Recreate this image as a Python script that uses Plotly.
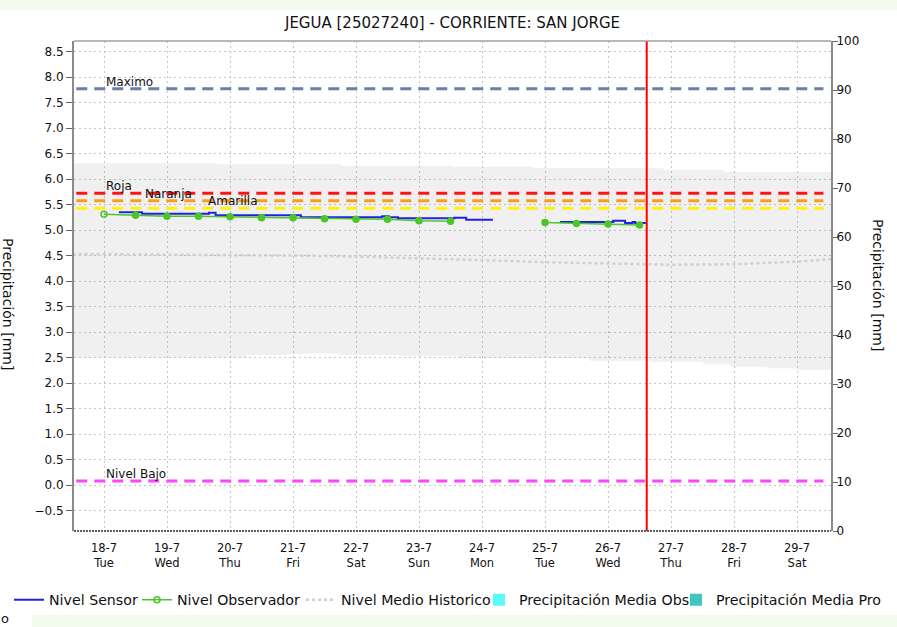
import plotly.graph_objects as go

# ---------------- data ----------------
title_text = "JEGUA [25027240] - CORRIENTE: SAN JORGE"
axis_title = "Precipitación [mm]"

day_ticks = ["2023-07-18", "2023-07-19", "2023-07-20", "2023-07-21", "2023-07-22", "2023-07-23",
             "2023-07-24", "2023-07-25", "2023-07-26", "2023-07-27", "2023-07-28", "2023-07-29"]
day_labels = ["18-7<br>Tue", "19-7<br>Wed", "20-7<br>Thu", "21-7<br>Fri", "22-7<br>Sat", "23-7<br>Sun",
              "24-7<br>Mon", "25-7<br>Tue", "26-7<br>Wed", "27-7<br>Thu", "28-7<br>Fri", "29-7<br>Sat"]

x_range = ["2023-07-17 12:34", "2023-07-29 12:57"]

obs_time = ["2023-07-18 00:00", "2023-07-18 12:00", "2023-07-19 00:00", "2023-07-19 12:00",
            "2023-07-20 00:00", "2023-07-20 12:00", "2023-07-21 00:00", "2023-07-21 12:00",
            "2023-07-22 00:00", "2023-07-22 12:00", "2023-07-23 00:00", "2023-07-23 12:00",
            "2023-07-24 12:00",
            "2023-07-25 00:00", "2023-07-25 12:00", "2023-07-26 00:00", "2023-07-26 12:00"]
obs_level = [5.31, 5.29, 5.27, 5.27, 5.26, 5.24, 5.24, 5.22, 5.21, 5.21, 5.18, 5.17,
             None,
             5.15, 5.13, 5.12, 5.10]

sensor_time = ["2023-07-18 05:40", "2023-07-18 14:30", "2023-07-19 16:00", "2023-07-19 18:30",
               "2023-07-21 03:00", "2023-07-22 10:00", "2023-07-22 12:30", "2023-07-22 16:00",
               "2023-07-23 13:30", "2023-07-23 18:00", "2023-07-24 04:10",
               "2023-07-24 12:00",
               "2023-07-25 05:40", "2023-07-26 02:00", "2023-07-26 06:30", "2023-07-26 09:20",
               "2023-07-26 10:20", "2023-07-26 14:25"]
sensor_level = [5.35, 5.32, 5.34, 5.29, 5.25, 5.27, 5.25, 5.23, 5.24, 5.20, 5.20,
                None,
                5.16, 5.18, 5.14, 5.16, 5.14, 5.14]

hist_time = ["2023-07-17 12:00", "2023-07-19 00:00", "2023-07-20 00:00", "2023-07-21 00:00",
             "2023-07-22 00:00", "2023-07-23 00:00", "2023-07-24 00:00", "2023-07-25 00:00",
             "2023-07-26 00:00", "2023-07-27 00:00", "2023-07-28 00:00", "2023-07-28 12:00",
             "2023-07-29 00:00", "2023-07-29 13:00"]
hist_level = [4.53, 4.52, 4.51, 4.50, 4.48, 4.45, 4.41, 4.37, 4.35, 4.32, 4.33, 4.35, 4.38, 4.43]

band_up_time = ["2023-07-17 12:00", "2023-07-19 18:15", "2023-07-21 18:45", "2023-07-23 12:00",
                "2023-07-24 19:30", "2023-07-26 21:00", "2023-07-27 20:00", "2023-07-29 13:00"]
band_up = [6.31, 6.29, 6.26, 6.24, 6.21, 6.18, 6.14, 6.14]

band_lo_time = ["2023-07-17 12:00", "2023-07-20 06:30", "2023-07-20 21:30", "2023-07-21 03:30",
                "2023-07-21 18:00", "2023-07-22 17:00", "2023-07-23 14:30", "2023-07-25 17:00",
                "2023-07-26 16:00", "2023-07-27 12:15", "2023-07-27 22:30", "2023-07-28 12:30",
                "2023-07-29 00:00", "2023-07-29 13:00"]
band_lo = [2.50, 2.55, 2.57, 2.58, 2.55, 2.53, 2.49, 2.44, 2.42, 2.37, 2.32, 2.29, 2.255, 2.255]

precip_obs = [0, 0, 0, 0, 0, 0, 0, 0, 0, 0, 0, 0]
precip_pro = [0, 0, 0, 0, 0, 0, 0, 0, 0, 0, 0, 0]

threshold_names = ["Maximo", "Roja", "Naranja", "Amarilla", "Nivel Bajo"]
threshold_values = [7.77, 5.72, 5.575, 5.425, 0.08]
threshold_colors = ["#6e7ca6", "#ff1414", "#ff9a1a", "#ffee10", "#ff44ff"]
threshold_label_x = ["2023-07-18 00:00", "2023-07-18 00:00", "2023-07-18 14:45",
                     "2023-07-19 15:00", "2023-07-18 00:00"]

now_time = "2023-07-26 14:45"

# ---------------- layout geometry ----------------
W, H = 897, 627
PL, PR, PT, PB = 74, 831, 41, 531   # plot area in px


def px_x(px):
    return (px - PL) / (PR - PL)


def px_y(py):
    return (PB - py) / (PB - PT)


FONT = "DejaVu Sans"
GRID = "#c6c6c6"

fig = go.Figure()

# band (historical range)
fig.add_trace(go.Scatter(x=band_up_time, y=band_up, mode="lines", line=dict(width=0, shape="hv"),
                         showlegend=False, hoverinfo="skip"))
fig.add_trace(go.Scatter(x=band_lo_time, y=band_lo, mode="lines", line=dict(width=0, shape="hv"),
                         fill="tonexty", fillcolor="rgba(120,120,120,0.11)",
                         showlegend=False, hoverinfo="skip"))

# precipitation (zero) bars on right axis
fig.add_trace(go.Bar(x=day_ticks, y=precip_obs, yaxis="y2", name="Precipitación Media Obs",
                     marker=dict(color="#5cfbfb", line=dict(width=0)), legend="legend4"))
fig.add_trace(go.Bar(x=day_ticks, y=precip_pro, yaxis="y2", name="Precipitación Media Pro",
                     marker=dict(color="#40c4c4", line=dict(width=0)), legend="legend5"))

# historical mean
fig.add_trace(go.Scatter(x=hist_time, y=hist_level, mode="lines", name="Nivel Medio Historico",
                         line=dict(color="#cfcfcf", width=2.5, dash="3px,3px"), legend="legend3"))

# sensor
fig.add_trace(go.Scatter(x=sensor_time, y=sensor_level, mode="lines", name="Nivel Sensor",
                         line=dict(color="#2020e0", width=2, shape="hv"), connectgaps=False,
                         legend="legend"))

# observer
obs_symbols = ["circle-open"] + ["circle"] * (len(obs_time) - 1)
fig.add_trace(go.Scatter(x=obs_time, y=obs_level, mode="lines+markers", name="Nivel Observador",
                         line=dict(color="#4cc52a", width=1.5), connectgaps=False,
                         marker=dict(color="#4cc52a", size=6, symbol=obs_symbols,
                                     line=dict(color="#4cc52a", width=1.5)),
                         legend="legend2"))

shapes = []
annotations = []

# threshold lines + labels
for name, val, col, lx in zip(threshold_names, threshold_values, threshold_colors, threshold_label_x):
    shapes.append(dict(type="line", xref="paper", yref="y", x0=0.003, x1=0.99, y0=val, y1=val,
                       line=dict(color=col, width=3, dash="11px,7px")))
    annotations.append(dict(x=lx, y=val, xref="x", yref="y", text=name, showarrow=False,
                            xanchor="left", yanchor="bottom", yshift=-2,
                            font=dict(family=FONT, size=12, color="#111")))

# current time vertical line
shapes.append(dict(type="line", xref="x", yref="paper", x0=now_time, x1=now_time, y0=0, y1=1,
                   line=dict(color="#ff0000", width=2)))

# frame
shapes.append(dict(type="line", xref="paper", yref="paper", x0=0, x1=1, y0=1, y1=1,
                   line=dict(color="#a0a0a0", width=1.5)))
shapes.append(dict(type="line", xref="paper", yref="paper", x0=0, x1=1, y0=0, y1=0,
                   line=dict(color="#606060", width=2, dash="2px,1px")))

# page strips
shapes.append(dict(type="rect", xref="paper", yref="paper", x0=px_x(0), x1=px_x(W),
                   y0=px_y(10), y1=px_y(0), line=dict(width=0), fillcolor="#f4fbee", layer="below"))
shapes.append(dict(type="rect", xref="paper", yref="paper", x0=px_x(32), x1=px_x(W),
                   y0=px_y(H), y1=px_y(615), line=dict(width=0), fillcolor="#f2fbeb", layer="below"))

# axis titles (rotated clockwise)
annotations.append(dict(x=px_x(878), y=px_y(285), xref="paper", yref="paper", text=axis_title,
                        textangle=90, showarrow=False, xanchor="center", yanchor="middle",
                        font=dict(family=FONT, size=14, color="#111")))
annotations.append(dict(x=px_x(8), y=px_y(304), xref="paper", yref="paper", text=axis_title,
                        textangle=90, showarrow=False, xanchor="center", yanchor="middle",
                        font=dict(family=FONT, size=14, color="#111")))
annotations.append(dict(x=px_x(5), y=px_y(618), xref="paper", yref="paper", text="o",
                        showarrow=False, xanchor="center", yanchor="middle",
                        font=dict(family=FONT, size=13, color="#111")))

legend_text_start = [49, 177, 341, 519, 716]
legend_ids = ["legend", "legend2", "legend3", "legend4", "legend5"]
legend_common = dict(orientation="h", xref="container", yref="container", xanchor="left",
                     yanchor="middle", y=1 - 600 / H, bgcolor="rgba(0,0,0,0)", borderwidth=0,
                     itemwidth=30, font=dict(family=FONT, size=14.2, color="#111"))
legend_layout = {}
for lid, xs in zip(legend_ids, legend_text_start):
    d = dict(legend_common)
    d["x"] = (xs - 40) / W
    legend_layout[lid] = d

fig.update_layout(
    width=W, height=H,
    margin=dict(l=PL, r=W - PR, t=PT, b=H - PB, autoexpand=False),
    paper_bgcolor="white", plot_bgcolor="white",
    font=dict(family=FONT, size=12, color="#111"),
    title=dict(text=title_text, xref="container", yref="container", x=452.5 / W, y=1 - 22.5 / H,
               xanchor="center", yanchor="middle", font=dict(family=FONT, size=15, color="#111")),
    showlegend=True,
    barmode="group",
    xaxis=dict(type="date", range=x_range, tickvals=day_ticks, ticktext=day_labels,
               showgrid=True, gridcolor=GRID, gridwidth=1, griddash="2px,3px",
               ticks="outside", ticklen=6, tickcolor="rgba(0,0,0,0)",
               tickfont=dict(family=FONT, size=11.5, color="#111"),
               showline=False, zeroline=False),
    yaxis=dict(range=[-0.90, 8.706], tick0=0, dtick=0.5, tickformat=".1f",
               showgrid=True, gridcolor=GRID, gridwidth=1, griddash="2px,3px",
               ticks="outside", ticklen=6, tickcolor="#666", tickwidth=1,
               tickfont=dict(family=FONT, size=12, color="#111"),
               showline=True, linecolor="#8a8a8a", linewidth=2, zeroline=False),
    yaxis2=dict(overlaying="y", side="right", range=[0, 100], tick0=0, dtick=10,
                showgrid=False, ticks="outside", ticklen=5, tickcolor="#666", tickwidth=1,
                ticklabelstandoff=-4,
                tickfont=dict(family=FONT, size=12, color="#111"),
                showline=True, linecolor="#8a8a8a", linewidth=2, zeroline=False),
    shapes=shapes,
    annotations=annotations,
    **legend_layout,
)

fig.write_html("out.html", config={"displayModeBar": False},
               post_script="document.body.style.margin='0px';")
